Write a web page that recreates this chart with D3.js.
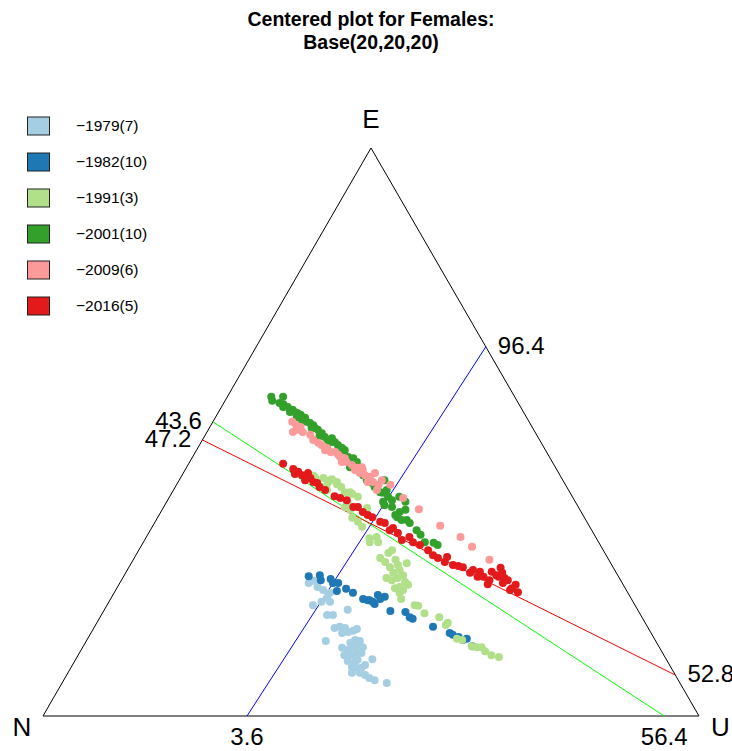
<!DOCTYPE html>
<html><head><meta charset="utf-8">
<script src="https://cdn.jsdelivr.net/npm/d3@7"></script>
<style>body{margin:0;background:#fff}svg{display:block}text{font-family:"Liberation Sans",Arial,sans-serif}</style>
</head><body><div id="chart"></div>
<script>
// ---- data (compositions in %: [E, U]; N = 100 - E - U) ----
const seriesNames = ["\u22121979(7)", "\u22121982(10)", "\u22121991(3)", "\u22122001(10)", "\u22122009(6)", "\u22122016(5)"];
const seriesColors = ["#a6cee3", "#1f78b4", "#b2df8a", "#33a02c", "#fb9a99", "#e31a1c"];
const s1979 = [[23.4,28.8],[23.8,29.4],[22.7,30.5],[22.2,31.6],[21.7,32.9],[20.8,32.9],[20.1,32.4],[19.5,31.4],[20.1,33.7],[18.7,37.1],[17.8,34.4],[17.8,35.3],[15.5,36.7],[15.7,37.4],[14.6,38.3],[14.8,39.1],[15.0,39.8],[15.3,40.2],[13.2,36.5],[13.4,40.9],[13.2,41.7],[12.0,39.6],[11.6,40.7],[12.0,41.3],[12.1,42.7],[10.7,40.6],[10.7,41.7],[11.1,42.4],[11.1,43.0],[9.7,41.6],[9.5,42.8],[10.0,45.2],[8.6,42.8],[8.6,43.3],[7.6,43.3],[8.5,44.3],[7.6,44.5],[7.2,45.5],[6.7,46.4],[6.3,47.4],[5.8,49.5],[15.5,38.3],[12.9,40.4],[9.9,43.0],[9.0,44.6],[12.5,41.8]];
const s1982 = [[24.6,28.2],[24.8,29.8],[23.9,30.4],[24.1,31.8],[23.4,32.5],[23.4,33.3],[22.0,33.8],[22.4,35.0],[21.7,36.4],[20.6,38.5],[20.4,39.3],[20.1,40.2],[21.3,40.4],[20.6,41.1],[21.0,41.6],[19.7,40.7],[20.4,39.6],[18.5,43.7],[18.3,46.1],[17.4,47.2],[17.1,47.8],[15.7,51.6],[14.6,54.7],[14.3,55.3],[13.9,56.4],[13.4,57.3],[13.6,57.8],[12.3,59.3]];
const s1991 = [[42.3,20.1],[41.9,20.6],[41.9,21.8],[41.5,23.0],[41.7,23.2],[41.2,24.2],[40.8,24.4],[40.3,22.3],[39.8,23.4],[39.4,26.3],[39.4,27.1],[39.1,27.6],[38.6,28.7],[37.5,27.7],[36.8,27.6],[36.3,28.7],[36.6,31.1],[34.9,29.7],[34.2,30.9],[33.3,32.0],[31.3,34.1],[31.5,35.1],[30.6,34.5],[30.6,35.8],[28.7,38.3],[29.2,38.6],[27.8,37.5],[26.2,39.8],[24.3,40.2],[23.9,41.2],[25.2,40.8],[26.6,40.8],[26.9,42.0],[25.7,41.5],[24.8,42.5],[24.3,41.9],[23.6,43.4],[22.7,43.0],[22.2,43.8],[21.7,43.5],[20.6,44.3],[19.5,46.9],[19.4,47.5],[18.1,49.1],[17.4,51.7],[16.0,53.4],[16.4,53.5],[13.6,56.3],[13.4,57.2],[12.3,59.2],[12.1,60.1],[12.1,60.8],[11.4,61.7],[10.7,63.0],[10.4,64.3],[27.5,40.0],[27.1,38.6],[22.5,42.4],[23.1,44.1],[40.3,25.3],[41.0,22.9]];
const s2001 = [[56.2,6.7],[55.5,7.2],[56.2,8.5],[55.1,8.5],[54.4,9.4],[54.4,10.1],[53.9,11.1],[53.5,11.6],[53.3,12.2],[53.0,12.8],[52.6,12.4],[52.1,13.4],[51.8,14.3],[51.6,14.9],[51.2,15.6],[50.7,16.1],[50.4,16.7],[49.8,17.6],[49.1,18.4],[48.6,19.1],[48.9,19.6],[48.2,20.4],[47.7,21.1],[47.2,22.0],[46.8,22.6],[45.6,23.7],[45.4,24.6],[44.7,25.5],[43.8,24.9],[43.3,26.6],[42.4,27.6],[41.5,28.6],[41.0,29.7],[40.3,30.4],[41.5,31.3],[39.8,32.5],[38.6,33.3],[38.0,34.2],[37.1,33.5],[39.3,32.2],[35.4,36.0],[35.9,36.4],[36.3,37.1],[34.5,37.4],[34.5,38.2],[34.0,38.9],[32.7,40.6],[31.9,41.6],[30.6,42.9],[30.5,44.3],[30.1,45.1],[35.0,36.5],[37.7,36.4],[38.6,35.0],[54.9,9.2],[53.5,10.9],[52.5,13.7],[50.7,15.6],[49.3,17.5],[48.2,19.7],[46.8,21.9],[44.7,24.7],[44.0,26.0],[41.9,28.6],[39.4,31.7],[37.7,33.0],[36.8,34.8]];
const s2009 = [[51.8,12.1],[50.0,13.1],[50.9,13.8],[51.2,13.0],[50.0,14.6],[49.5,16.0],[48.6,16.9],[48.1,17.9],[47.7,18.6],[47.2,19.7],[46.5,20.6],[46.5,21.3],[45.6,22.5],[45.4,23.3],[44.7,23.2],[44.7,23.9],[44.2,25.0],[43.7,26.1],[43.8,26.7],[43.3,25.9],[42.8,26.9],[42.4,27.9],[42.1,28.8],[42.8,29.2],[41.2,29.7],[41.2,28.9],[40.7,30.8],[41.5,30.9],[39.8,31.0],[40.7,32.6],[38.4,35.7],[36.4,39.1],[33.5,43.8],[31.5,47.9],[29.8,50.5],[27.5,54.3],[50.4,13.7],[46.8,19.6],[46.0,22.0],[43.3,27.1]];
const s2016 = [[44.4,14.4],[43.5,16.4],[43.0,17.4],[42.4,18.3],[42.8,19.0],[42.1,19.2],[41.9,19.8],[41.2,20.6],[41.0,21.3],[40.3,22.0],[39.8,23.1],[38.7,25.1],[38.0,27.3],[36.8,28.9],[36.8,29.6],[35.9,30.8],[35.4,31.8],[35.0,32.7],[34.2,34.3],[34.0,35.1],[33.1,36.8],[32.7,36.5],[32.2,38.0],[31.0,39.2],[31.5,40.1],[30.1,42.4],[29.2,44.1],[28.3,45.3],[27.8,46.3],[28.0,47.6],[26.6,49.2],[26.4,50.1],[26.2,50.9],[25.2,52.5],[24.5,54.0],[24.5,54.9],[23.9,56.1],[26.1,56.7],[24.8,56.7],[24.5,57.2],[24.3,58.2],[23.4,58.4],[23.9,58.9],[22.5,60.2],[23.1,60.5],[21.8,61.5],[25.4,53.9],[25.4,55.7],[23.2,56.2],[25.2,57.4],[22.2,60.1],[25.7,52.7],[27.1,47.7],[30.6,41.1],[41.5,19.2],[42.6,17.1],[38.4,26.1]];
const seriesData = [s1979, s1982, s1991, s2001, s2009, s2016];
// reference lines: endpoints as [E, U] on triangle edges, with their labels
const refLineColors = ["#0000ff", "#00ff00", "#ff0000"];
const refLineStarts = [[0, 31.1], [51.8, 0], [48.6, 0]];
const refLineEnds = [[65.0, 35.0], [0, 94.7], [7.2, 92.8]];
const refLineStartLabels = ["3.6", "43.6", "47.2"];
const refLineEndLabels = ["96.4", "56.4", "52.8"];
const vertexLabels = ["N", "E", "U"];
const titleLines = ["Centered plot for Females:", "Base(20,20,20)"];

// ---- drawing ----
const W = 732, H = 751;
const svg = d3.select("#chart").append("svg").attr("width", W).attr("height", H);
const xS = d3.scaleLinear().domain([0, 100]).range([43, 699]);
const yS = d3.scaleLinear().domain([0, 100]).range([716, 148]);
const px = d => xS(d[1] + d[0] / 2);
const py = d => yS(d[0]);

// title
svg.selectAll("text.title").data(titleLines).enter().append("text")
  .attr("class", "title").attr("x", 371).attr("y", (d, i) => 26 + i * 23)
  .attr("text-anchor", "middle").attr("font-weight", "bold").attr("font-size", 19.5)
  .text(d => d);

// triangle
const verts = [[0, 0], [100, 0], [0, 100]]; // N, E, U as [E,U]
svg.append("path").attr("d", d3.line().x(px).y(py)(verts) + "Z")
  .attr("fill", "none").attr("stroke", "#000").attr("stroke-width", 1);

// reference lines
refLineColors.forEach((c, i) => {
  svg.append("line").attr("x1", px(refLineStarts[i])).attr("y1", py(refLineStarts[i]))
    .attr("x2", px(refLineEnds[i])).attr("y2", py(refLineEnds[i]))
    .attr("stroke", c).attr("stroke-width", 1);
});
function edgeLabel(p, txt) {
  const x = px(p), y = py(p);
  const t = svg.append("text").attr("font-size", 24).text(txt);
  if (p[0] === 0) { // bottom edge
    t.attr("x", x).attr("y", y + 29).attr("text-anchor", "middle");
  } else if (p[1] === 0) { // left edge
    t.attr("x", x - 11).attr("y", y + 7).attr("text-anchor", "end");
  } else { // right edge
    t.attr("x", x + 12).attr("y", y + 7).attr("text-anchor", "start");
  }
}
refLineColors.forEach((c, i) => {
  edgeLabel(refLineStarts[i], refLineStartLabels[i]);
  edgeLabel(refLineEnds[i], refLineEndLabels[i]);
});

// points
seriesData.forEach((arr, i) => {
  svg.append("g").selectAll("circle").data(arr).enter().append("circle")
    .attr("cx", px).attr("cy", py).attr("r", 4).attr("fill", seriesColors[i]);
});

// vertex labels
const vOff = [[-21, 20, "middle"], [0, -20, "middle"], [12, 20, "start"]];
verts.forEach((v, i) => {
  svg.append("text").attr("x", px(v) + vOff[i][0]).attr("y", py(v) + vOff[i][1])
    .attr("text-anchor", vOff[i][2]).attr("font-size", 26).text(vertexLabels[i]);
});

// legend
const lg = svg.append("g");
seriesNames.forEach((n, i) => {
  const cy = 126 + i * 36;
  lg.append("rect").attr("x", 27.5).attr("y", cy - 9).attr("width", 22).attr("height", 18)
    .attr("fill", seriesColors[i]).attr("stroke", "#222").attr("stroke-width", 1);
  lg.append("text").attr("x", 76).attr("y", cy + 5).attr("font-size", 15.5).text(n);
});
</script></body></html>
